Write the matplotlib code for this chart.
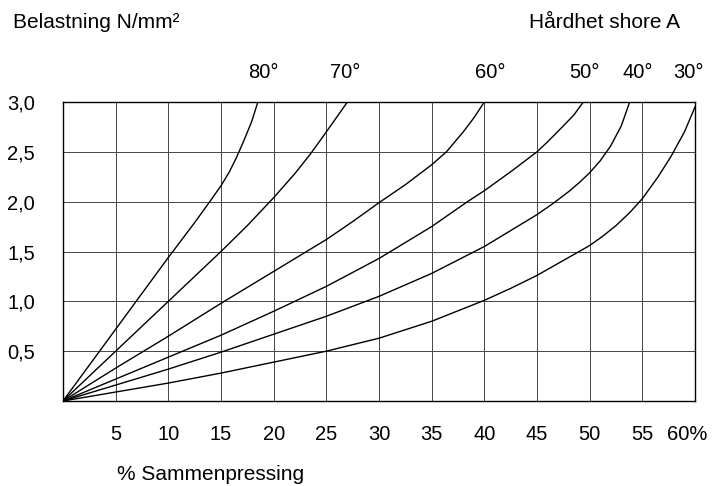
import matplotlib
matplotlib.use("Agg")
import matplotlib.pyplot as plt
from matplotlib.font_manager import fontManager
from matplotlib.transforms import ScaledTranslation

# kompresjon (%) og belastning (N/mm2) for hver hardhet, lest av diagrammet
h80_x = [0, 5, 10, 12.5, 14, 15, 15.8, 16.5, 17.2, 17.9, 18.5]
h80_y = [0, 0.72, 1.44, 1.79, 2.01, 2.16, 2.3, 2.45, 2.62, 2.8, 3.0]
h70_x = [0, 5, 10, 15, 17.5, 20, 22, 23.5, 25, 26, 27]
h70_y = [0, 0.5, 1.0, 1.5, 1.76, 2.04, 2.28, 2.48, 2.7, 2.85, 3.0]
h60_x = [0, 5, 10, 15, 20, 25, 27.5, 30, 32.5, 35, 36.4, 38, 39, 40]
h60_y = [0, 0.33, 0.65, 0.98, 1.3, 1.62, 1.8, 1.99, 2.17, 2.37, 2.5, 2.7, 2.84, 3.0]
h50_x = [0, 5, 10, 15, 20, 25, 30, 35, 38.4, 40, 42.5, 45, 46, 47.5, 48.5, 49.4]
h50_y = [0, 0.22, 0.44, 0.66, 0.9, 1.15, 1.43, 1.75, 2.0, 2.11, 2.3, 2.5, 2.6, 2.76, 2.87, 3.0]
h40_x = [0, 5, 10, 15, 20, 25, 30, 35, 40, 45, 46.5, 48, 49, 50, 51, 52, 53, 53.8]
h40_y = [0, 0.16, 0.32, 0.49, 0.67, 0.85, 1.05, 1.28, 1.55, 1.87, 1.98, 2.1, 2.19, 2.29, 2.41, 2.56, 2.76, 3.0]
h30_x = [0, 5, 10, 15, 20, 25, 30, 35, 40, 42.5, 45, 47.5, 50, 51.2, 52.5, 53.8, 55, 56.5, 57.7, 59, 60]
h30_y = [0, 0.09, 0.18, 0.28, 0.39, 0.5, 0.63, 0.8, 1.01, 1.13, 1.26, 1.41, 1.56, 1.65, 1.76, 1.89, 2.03, 2.25, 2.45, 2.7, 2.95]

curves = [(h80_x, h80_y), (h70_x, h70_y), (h60_x, h60_y),
          (h50_x, h50_y), (h40_x, h40_y), (h30_x, h30_y)]

hard_labels = ["80°", "70°", "60°", "50°", "40°", "30°"]
hard_label_x = [19.0, 26.8, 40.6, 49.5, 54.6, 59.4]

x_ticks = [5, 10, 15, 20, 25, 30, 35, 40, 45, 50, 55, 60]
x_ticklabels = ["5", "10", "15", "20", "25", "30", "35", "40", "45", "50", "55", "60%"]
y_ticks = [0.5, 1.0, 1.5, 2.0, 2.5, 3.0]
y_ticklabels = ["0,5", "1,0", "1,5", "2,0", "2,5", "3,0"]

names = {f.name for f in fontManager.ttflist}
narrow = "Liberation Sans Narrow" if "Liberation Sans Narrow" in names else "Liberation Sans"
plt.rcParams["font.family"] = ["Liberation Sans", "DejaVu Sans"]

W, H = 727, 486
fig = plt.figure(figsize=(W / 100, H / 100), dpi=100)
ax = fig.add_axes([63 / W, 1 - 401 / H, 632 / W, 299 / H])

for xs, ys in curves:
    ax.plot(xs, ys, color="black", lw=1.0, solid_joinstyle="round")

ax.set_xlim(0, 60)
ax.set_ylim(0, 3.0)
ax.set_xticks(x_ticks)
ax.set_xticklabels(x_ticklabels, fontsize=14.5)
ax.set_yticks(y_ticks)
ax.set_yticklabels(y_ticklabels, fontsize=14.5)
ax.tick_params(axis="x", length=0, pad=17)
ax.tick_params(axis="y", length=0, pad=20)
# "60%" står litt til venstre for linjen
ax.get_xticklabels()[-1].set_transform(
    ax.get_xticklabels()[-1].get_transform() + ScaledTranslation(-0.08, 0, fig.dpi_scale_trans))

ax.grid(True, color="#444444", lw=0.7)
for s in ax.spines.values():
    s.set_linewidth(1.0)
    s.set_color("black")

for lab, lx in zip(hard_labels, hard_label_x):
    ax.text(lx, 1.0 + 30 / 299, lab, transform=ax.get_xaxis_transform(),
            ha="center", va="center", fontsize=14.5)

fig.text(13 / W, 1 - 23 / H, "Belastning N/mm²", family=narrow,
         fontsize=15, ha="left", va="center")
fig.text(680 / W, 1 - 23 / H, "Hårdhet shore A", family=narrow,
         fontsize=15, ha="right", va="center")
fig.text(117 / W, 1 - 474 / H, "% Sammenpressing", family=narrow,
         fontsize=15, ha="left", va="center")

fig.savefig("out.png", dpi=100)
